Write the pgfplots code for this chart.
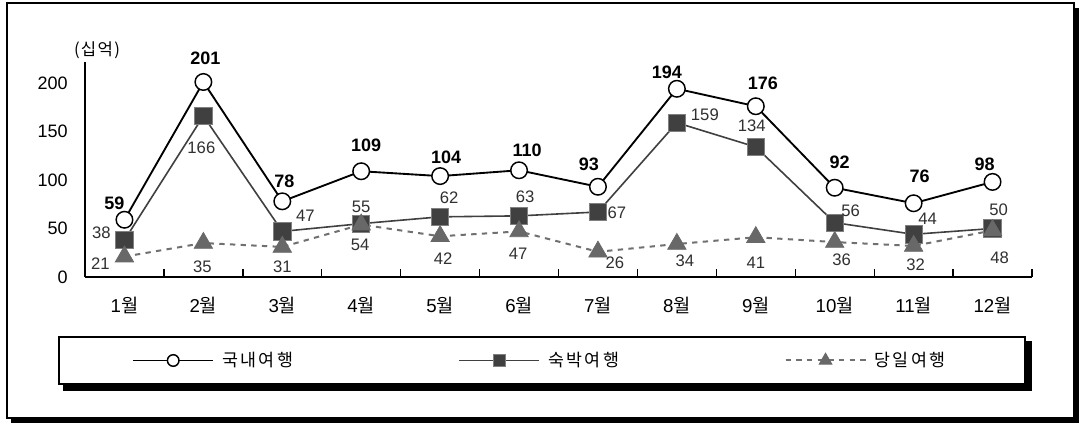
\documentclass[border=0pt]{standalone}
\usepackage{fontspec}
\setmainfont{Liberation Sans}
\newfontfamily\kr{Noto Sans CJK KR}
\newfontfamily\krs[LetterSpace=14]{Noto Sans CJK KR}
\newfontfamily\kry[LetterSpace=8]{Noto Sans CJK KR}
\usepackage{pgfplots}
\pgfplotsset{compat=1.18}
\usepackage{pgfplotstable}
\definecolor{sq}{HTML}{404040}
\definecolor{tri}{HTML}{686868}
\definecolor{dl}{HTML}{707070}
\definecolor{lab}{HTML}{303030}

% x y dx dy  (dx, dy: label offset in px, dy positive = up)
\pgfplotstableread{
x y dx dy
1 59 -10 16
2 201 2 24
3 78 2 20
4 109 5 26
5 104 6 19
6 110 8 20
7 93 -9 22
8 194 -10 16
9 176 7 23
10 92 5 25
11 76 6 27
12 98 -8 18
}\dom

\pgfplotstableread{
x y dx dy
1 38 -23 7
2 166 -2 -32
3 47 23 16
4 55 0 17
5 62 9 19
6 63 6 19
7 67 19 -1
8 159 28 8
9 134 -4 21
10 56 16 12
11 44 14 16
12 50 6 19
}\stay

\pgfplotstableread{
x y dx dy
1 21 -24 -7
2 35 -1 -24
3 31 0 -20
4 54 -1 -20
5 42 3 -22
6 47 -1 -22
7 26 17 -11
8 34 8 -17
9 41 0 -26
10 36 7 -18
11 32 2 -19
12 48 7 -27
}\day

\begin{document}
\begin{tikzpicture}
\begin{scope}[shift={(-63.75pt,207.75pt)},x=0.75pt,y=-0.75pt]
\path[use as bounding box] (0,0) rectangle (1082,424);
\fill[black] (11,8) rectangle (1079,423);
\draw[fill=white,line width=1pt] (7,3) rectangle (1074,418);
% legend box with shadow
\fill[black] (63,341) rectangle (1032,391);
\draw[fill=white,line width=1pt] (59,337) rectangle (1025,384);
\end{scope}
\begin{axis}[
  at={(0,0)}, anchor=south west, scale only axis,
  width=710.25pt, height=161.25pt,
  xmin=0.5, xmax=12.5, ymin=0, ymax=221.6,
  axis lines=left, axis line style={-, line width=1.3pt},
  xtick={1,...,12},
  xticklabels={1{\kr 월},2{\kr 월},3{\kr 월},4{\kr 월},5{\kr 월},6{\kr 월},7{\kr 월},8{\kr 월},9{\kr 월},10{\kr 월},11{\kr 월},12{\kr 월}},
  minor xtick={0.5,1.5,...,12.5},
  major tick length=0pt, minor tick length=6pt, tick align=inside,
  tick style={black, line width=1pt},
  ytick={0,50,100,150,200},
  yticklabel style={inner sep=0pt, xshift=-12.75pt, font=\fontsize{13.5}{15}\selectfont},
  xticklabel style={anchor=base, inner sep=0pt, yshift=-27pt, font=\fontsize{14}{16}\selectfont},
  /pgf/number format/assume math mode=true,
  clip=false,
  legend columns=3,
  legend style={at={(axis description cs:0.04963,-0.38837)}, anchor=west,
    draw=none, fill=none, inner sep=0pt,
    font=\krs\fontsize{13}{15}\selectfont,
    nodes={inner sep=0pt},
    /tikz/every odd column/.append style={column sep=6pt},
    /tikz/every even column/.append style={column sep=124pt}},
  legend image code/.code={\draw[mark repeat=2,mark phase=2,#1,every mark/.append style={scale=0.7}] plot coordinates {(0pt,0pt) (30pt,0pt) (60pt,0pt)};},
]
\addplot[black, line width=1.4pt, mark=*, mark size=6.2pt,
  mark options={fill=white, draw=black, line width=1.1pt, solid},
  visualization depends on={\thisrow{dx} \as \dx},
  visualization depends on={\thisrow{dy} \as \dy},
  nodes near coords,
  every node near coord/.append style={font=\bfseries\fontsize{13.5}{15}\selectfont, text=black, anchor=center, inner sep=0pt, xshift=\dx*0.75pt, yshift=\dy*0.75pt}
] table[x=x,y=y]{\dom};
\addlegendentry{국내여행}
\addplot[sq, line width=1.2pt, mark=square*, mark size=6.5pt,
  mark options={fill=sq, draw=gray, line width=0.6pt, solid},
  visualization depends on={\thisrow{dx} \as \dx},
  visualization depends on={\thisrow{dy} \as \dy},
  nodes near coords,
  every node near coord/.append style={font=\fontsize{12.5}{14}\selectfont, text=lab, anchor=center, inner sep=0pt, xshift=\dx*0.75pt, yshift=\dy*0.75pt}
] table[x=x,y=y]{\stay};
\addlegendentry{숙박여행}
\addplot[dl, line width=1.5pt, dash pattern=on 4pt off 4pt, mark=triangle*, mark size=8pt,
  mark options={fill=tri, draw=tri, line width=0.5pt, solid},
  visualization depends on={\thisrow{dx} \as \dx},
  visualization depends on={\thisrow{dy} \as \dy},
  nodes near coords,
  every node near coord/.append style={font=\fontsize{12.5}{14}\selectfont, text=lab, anchor=center, inner sep=0pt, xshift=\dx*0.75pt, yshift=\dy*0.75pt}
] table[x=x,y=y]{\day};
\addlegendentry{당일여행}
\end{axis}
\begin{scope}[shift={(-63.75pt,207.75pt)},x=0.75pt,y=-0.75pt]
\node[font=\kry\fontsize{12.5}{14}\selectfont, inner sep=0pt] at (97,50) {(십억)};
\end{scope}
\end{tikzpicture}
\end{document}
